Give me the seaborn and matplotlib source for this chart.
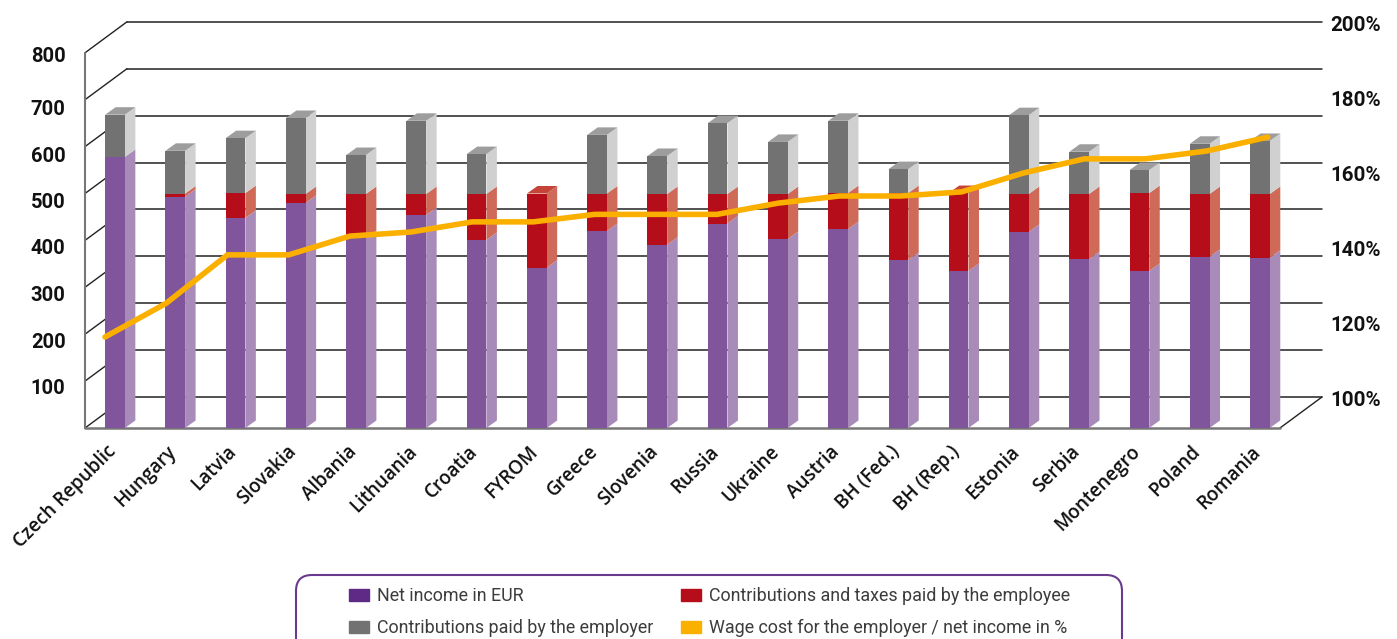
import numpy as np
import pandas as pd
import matplotlib
matplotlib.use("Agg")
import matplotlib.pyplot as plt
from matplotlib.patches import Patch, FancyBboxPatch
from matplotlib.transforms import IdentityTransform, ScaledTranslation
import seaborn as sns

countries = ["Czech Republic", "Hungary", "Latvia", "Slovakia", "Albania", "Lithuania", "Croatia",
             "FYROM", "Greece", "Slovenia", "Russia", "Ukraine", "Austria", "BH (Fed.)", "BH (Rep.)",
             "Estonia", "Serbia", "Montenegro", "Poland", "Romania"]
net_income = [578, 493, 448, 480, 405, 454, 401, 342, 420, 391, 436, 403, 424, 358, 335, 418, 360, 335, 365, 363]
employee = [0, 7, 53, 19, 94, 45, 98, 158, 80, 108, 63, 96, 77, 143, 166, 81, 139, 166, 134, 136]
employer = [90, 91, 117, 162, 83, 156, 85, 0, 125, 81, 151, 111, 154, 51, 0, 168, 90, 49, 107, 113]
wage_cost = [116, 125, 137.9, 137.9, 142.9, 144, 146.7, 146.7, 148.7, 148.7, 148.7, 151.7, 153.6, 153.6,
             154.7, 159.7, 163.5, 163.5, 165.6, 169.3]
left_ticks = [100, 200, 300, 400, 500, 600, 700, 800]
right_ticks = [100, 120, 140, 160, 180, 200]
legend_labels = ["Net income in EUR", "Contributions paid by the employer",
                 "Contributions and taxes paid by the employee", "Wage cost for the employer / net income in %"]

PURPLE, PURPLE_S = "#80559B", "#A98BB9"
RED, RED_S, RED_T = "#B50D19", "#D06A58", "#C54438"
GRAY, GRAY_S, GRAY_T = "#727272", "#D0D0D0", "#9D9D9D"
YELLOW = "#FBB000"

W, H = 1397, 639
sns.set_theme(style="white")
plt.rcParams["font.family"] = ["Roboto", "DejaVu Sans"]

fig = plt.figure(figsize=(W / 100, H / 100), dpi=100)
L, R, B, T = 85, 1280, 428, 22
pos = [L / W, (H - B) / H, (R - L) / W, (B - T) / H]
ax = fig.add_axes(pos)
ax.patch.set_alpha(0)

pitch = 60.26
px_per_unit = 0.469
xmin, xmax = (L - 115) / pitch, (R - 115) / pitch
ymax = (B - T) / px_per_unit
bar_w = 19.7 / pitch
dx, dy = 10.5 / pitch, 16.0          # bar depth in data units
wx, wy = 42 / pitch, 31 / px_per_unit  # wall depth in data units

net = np.array(net_income, float)
emp = np.array(employee, float)
boss = np.array(employer, float)
idx = np.arange(len(countries))

# walls
for v in [0] + left_ticks:
    ax.plot([xmin + wx, xmax + wx], [v + wy, v + wy], color="#222222", lw=1.1, clip_on=False, zorder=1)
    ax.plot([xmin, xmin + wx], [v, v + wy], color="#222222", lw=1.0, clip_on=False, zorder=1)
ax.plot([xmax, xmax + wx], [0, wy], color="#222222", lw=1.0, clip_on=False, zorder=1)
ax.plot([xmin, xmax], [0, 0], color="#777777", lw=1.8, clip_on=False, zorder=1.5)
ax.plot([xmin, xmin], [0, 800], color="#777777", lw=1.5, clip_on=False, zorder=1.5)

# side and top faces
def side(i, y0, y1, c):
    x = i + bar_w / 2
    ax.fill([x, x + dx, x + dx, x], [y0, y0 + dy, y1 + dy, y1], color=c, lw=0, zorder=2, clip_on=False)

for i in idx:
    a, b, c = net[i], net[i] + emp[i], net[i] + emp[i] + boss[i]
    side(i, 0, a, PURPLE_S)
    if emp[i] > 0:
        side(i, a, b, RED_S)
    if boss[i] > 0:
        side(i, b, c, GRAY_S)
    x0 = i - bar_w / 2
    ax.fill([x0, x0 + bar_w, x0 + bar_w + dx, x0 + dx], [c, c, c + dy, c + dy],
            color=GRAY_T if boss[i] > 0 else RED_T, lw=0, zorder=2, clip_on=False)

# front faces
common = dict(x=countries, width=bar_w, saturation=1, ax=ax, zorder=3, linewidth=0, errorbar=None)
sns.barplot(y=net_income, color=PURPLE, **common)
sns.barplot(y=employee, bottom=net, color=RED, **common)
sns.barplot(y=employer, bottom=net + emp, color=GRAY, **common)

ax.set_xlim(xmin, xmax)
ax.set_ylim(0, ymax)
sns.despine(ax=ax, left=True, bottom=True, top=True, right=True)
ax.set_xlabel("")
ax.set_ylabel("")
ax.set_xticks(idx)
ax.set_xticklabels(countries, rotation=45, ha="right", rotation_mode="anchor",
                   fontsize=13.6, family="Open Sans", weight="semibold", color="#111111")
ax.set_yticks(left_ticks)
ax.set_yticklabels([str(v) for v in left_ticks], fontsize=14.5, weight="bold", color="#111111")
ax.tick_params(axis="x", length=0, pad=10)
ax.tick_params(axis="y", length=0, pad=14)
xshift = ScaledTranslation(-9 / 100, 0, fig.dpi_scale_trans)
for t in ax.get_xticklabels():
    t.set_transform(t.get_transform() + xshift)
label_drop = {100: 5, 200: 6, 300: 6, 400: 6, 500: 7, 600: 8, 700: 8, 800: 2}
for t, v in zip(ax.get_yticklabels(), left_ticks):
    t.set_transform(t.get_transform() + ScaledTranslation(0, -label_drop[v] / 100, fig.dpi_scale_trans))

# wage cost line on its own scale
ax2 = fig.add_axes(pos)
ax2.patch.set_alpha(0)
sns.lineplot(x=countries, y=wage_cost, sort=False, color=YELLOW, lw=4, ax=ax2, zorder=5, errorbar=None)
ax2.set_xlim((L - 105) / 61.2, (R - 105) / 61.2)
ax2.set_ylim(100 - 31 / 3.75, 100 - 31 / 3.75 + (B - T) / 3.75)
ax2.set_xticks([])
ax2.set_xlabel("")
ax2.set_ylabel("")
ax2.yaxis.tick_right()
ax2.set_yticks(right_ticks)
ax2.set_yticklabels([f"{v}%" for v in right_ticks], fontsize=14.8, weight="bold", color="#111111")
ax2.tick_params(axis="y", length=0, pad=36)
for t in ax2.get_yticklabels():
    t.set_transform(t.get_transform() + ScaledTranslation(0, -1.5 / 100, fig.dpi_scale_trans))
sns.despine(ax=ax2, left=True, bottom=True, top=True, right=True)

# legend
fig.add_artist(FancyBboxPatch((296, H - 655), 826, 80, boxstyle="round,pad=0,rounding_size=16",
                              transform=IdentityTransform(), ec="#6A3A8F", lw=1.5, fc="white", zorder=1))
handles = [Patch(color="#5F2A85"), Patch(color=GRAY), Patch(color=RED), Patch(color=YELLOW)]
leg = fig.legend(handles, legend_labels, ncols=2, loc="upper left", frameon=False,
                 bbox_to_anchor=(349 / W, (H - 587) / H), borderaxespad=0, borderpad=0,
                 fontsize=12.85, handlelength=1.12, handleheight=0.62, handletextpad=0.45,
                 columnspacing=1.56, labelspacing=0.8, labelcolor="#3C3C3C")
leg.set_zorder(2)

fig.savefig("out.png", dpi=100)
